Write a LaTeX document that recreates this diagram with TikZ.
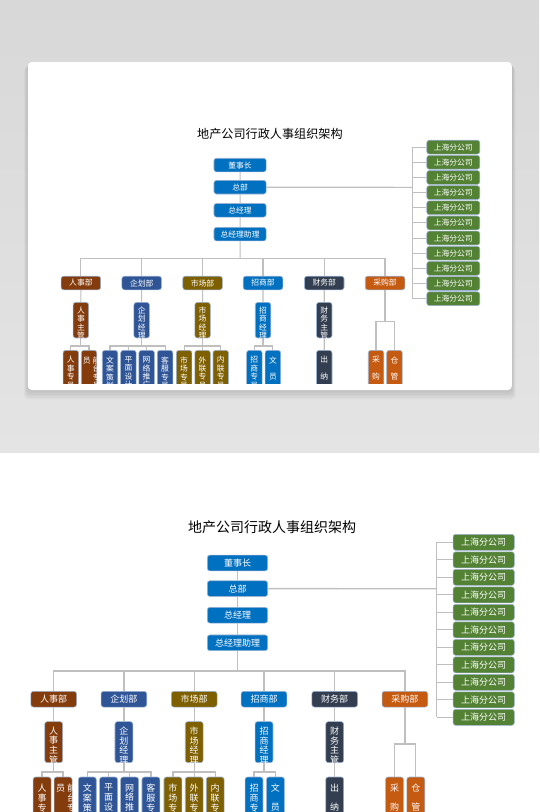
\documentclass[tikz,border=0pt]{standalone}
\usepackage{fontspec}
\setmainfont{Noto Sans CJK SC}
\usetikzlibrary{positioning,calc}

\definecolor{zblue}{HTML}{0070C0}
\definecolor{zgreen}{HTML}{548235}
\definecolor{zbrown}{HTML}{843C0C}
\definecolor{znavy}{HTML}{2F5597}
\definecolor{zolive}{HTML}{7F6000}
\definecolor{zslate}{HTML}{333F50}
\definecolor{zorange}{HTML}{C55A11}
\definecolor{edgeblue}{HTML}{9CB3D3}
\definecolor{linegray}{HTML}{BFBFBF}
\definecolor{bgtop}{HTML}{D8D8D8}
\definecolor{bgbot}{HTML}{E4E4E4}

\newcommand{\vcol}[2]{\parbox[c][#1][t]{10pt}{\centering #2}}

\tikzset{
    x=1pt, y=-1pt,
    orgbox/.style={draw=edgeblue, line width=0.6pt, rounded corners=2.5pt, text=white,
        inner sep=0pt, font=\fontsize{9}{9.8}\selectfont},
    head/.style={orgbox, fill=zblue, minimum width=60.3pt, minimum height=15.7pt},
    dept/.style={orgbox, minimum width=45.7pt, minimum height=15.7pt},
    branch/.style={orgbox, fill=zgreen, minimum width=61.2pt, minimum height=16pt},
    mgr/.style={orgbox, anchor=north, minimum width=17.9pt, inner ysep=5pt},
    staff/.style={orgbox, anchor=north, minimum width=17.9pt, inner ysep=7pt},
    wire/.style={draw=linegray, line width=1.3pt}
}

% the whole chart, #1 = prefix of the node names
\newcommand{\orgchart}[1]{%
    \node (#1title) at (272,527) {\fontsize{14}{16}\selectfont 地产公司行政人事组织架构};

    \node[head] (#1dsz) at (237.5,563) {董事长};
    \node[head] (#1zb) [below=9.3pt of #1dsz] {总部};
    \node[head] (#1zjl) [below=10.3pt of #1zb] {总经理};
    \node[head] (#1zl) [below=11.3pt of #1zjl] {总经理助理};
    \draw[wire] (#1dsz) -- (#1zb);
    \draw[wire] (#1zb) -- (#1zjl);
    \draw[wire] (#1zjl) -- (#1zl);

    % branch offices
    \coordinate (#1br) at (436.6,588.7);
    \foreach \i in {1,...,11}
        \node[branch] (#1g\i) at (483.7,524.8+17.5*\i) {上海分公司};
    \draw[wire] (#1zb.east) -- (#1br);
    \draw[wire] (#1br |- #1g1.west) -- (#1br |- #1g11.west);
    \foreach \i in {1,...,11}
        \draw[wire] (#1br |- #1g\i.west) -- (#1g\i.west);

    % departments
    \node[dept, fill=zbrown] (#1rs) at (53.7,699.2) {人事部};
    \node[dept, fill=znavy] (#1qh) at (123.9,699.2) {企划部};
    \node[dept, fill=zolive] (#1sc) at (194.2,699.2) {市场部};
    \node[dept, fill=zblue] (#1zs) at (264,699.2) {招商部};
    \node[dept, fill=zslate] (#1cw) at (334.7,699.2) {财务部};
    \node[dept, fill=zorange] (#1cg) at (404.9,699.2) {采购部};
    \coordinate (#1bus) at (237.5,671);
    \draw[wire] (#1zl) -- (#1bus);
    \foreach \d in {rs,qh,sc,zs,cw,cg}
        \draw[wire] (#1bus) -| (#1\d.north);

    % managers
    \node[mgr, fill=zbrown] (#1rsm) [below=14pt of #1rs] {\vcol{31pt}{人\\事\\主\\管}};
    \node[mgr, fill=znavy] (#1qhm) [below=14pt of #1qh] {\vcol{31pt}{企\\划\\经\\理}};
    \node[mgr, fill=zolive] (#1scm) [below=14pt of #1sc] {\vcol{31pt}{市\\场\\经\\理}};
    \node[mgr, fill=zblue] (#1zsm) [below=14pt of #1zs] {\vcol{31pt}{招\\商\\经\\理}};
    \node[mgr, fill=zslate] (#1cwm) [below=14pt of #1cw] {\vcol{31pt}{财\\务\\主\\管}};
    \foreach \d in {rs,qh,sc,zs,cw}
        \draw[wire] (#1\d) -- (#1\d m);

    % staff
    \node[staff, fill=zbrown] (#1rs1) at (42.1,776.7) {\vcol{40pt}{人\\事\\专\\员}};
    \node[staff, fill=zbrown] (#1rs2) at (63.1,776.7) {\vcol{40pt}{\hspace*{-5pt}员\rlap{\hspace{2pt}\parbox[t]{9pt}{前\\台\\专\\员}}}};
    \node[staff, fill=znavy] (#1qh1) at (87.3,776.7) {\vcol{40pt}{文\\案\\策\\划}};
    \node[staff, fill=znavy] (#1qh2) at (108.6,776.7) {\vcol{40pt}{平\\面\\设\\计}};
    \node[staff, fill=znavy] (#1qh3) at (129.6,776.7) {\vcol{40pt}{网\\络\\推\\广}};
    \node[staff, fill=znavy] (#1qh4) at (150.9,776.7) {\vcol{40pt}{客\\服\\专\\员}};
    \node[staff, fill=zolive] (#1sc1) at (172.9,776.7) {\vcol{40pt}{市\\场\\专\\员}};
    \node[staff, fill=zolive] (#1sc2) at (194.2,776.7) {\vcol{40pt}{外\\联\\专\\员}};
    \node[staff, fill=zolive] (#1sc3) at (215.2,776.7) {\vcol{40pt}{内\\联\\专\\员}};
    \node[staff, fill=zblue] (#1zs1) at (254,776.7) {\vcol{40pt}{招\\商\\专\\员}};
    \node[staff, fill=zblue] (#1zs2) at (275.4,776.7) {\vcol{40pt}{文\\[9.5pt]员}};
    \node[staff, fill=zslate] (#1cw1) at (334.7,776.7) {\vcol{40pt}{出\\[9.5pt]纳}};
    \node[staff, fill=zorange] (#1cg1) at (394.5,776.7) {\vcol{40pt}{采\\[9.5pt]购}};
    \node[staff, fill=zorange] (#1cg2) at (415.8,776.7) {\vcol{40pt}{仓\\[9.5pt]管}};

    \foreach \c in {rs1,rs2}
        \draw[wire] (#1rsm.south) -- ++(0,9) -| (#1\c.north);
    \foreach \c in {qh1,qh2,qh3,qh4}
        \draw[wire] (#1qhm.south) -- ++(0,9) -| (#1\c.north);
    \foreach \c in {sc1,sc2,sc3}
        \draw[wire] (#1scm.south) -- ++(0,9) -| (#1\c.north);
    \foreach \c in {zs1,zs2}
        \draw[wire] (#1zsm.south) -- ++(0,9) -| (#1\c.north);
    \draw[wire] (#1cwm) -- (#1cw1);
    \foreach \c in {cg1,cg2}
        \draw[wire] (#1cg.south) -- ++(0,36.5) -| (#1\c.north);
}

\begin{document}
\begin{tikzpicture}
    \useasboundingbox (0,0) rectangle (539,812);
    \shade[top color=bgtop, bottom color=bgbot] (0,0) rectangle (539,452);

    % card with its shadow
    \foreach \s in {1,...,6}
        \fill[black, opacity=0.025, rounded corners=4pt]
            (27.8-0.6*\s,62+0.8*\s) rectangle (511.9+0.6*\s,390+1.6*\s);
    \fill[white, rounded corners=4pt] (27.8,62) rectangle (511.9,390);

    \begin{scope}
        \clip (27.8,62) rectangle (511.9,383.3);
        \begin{scope}[shift={(34.4,-322.5)}, scale=0.866, transform shape,
                wire/.append style={line width=1.1pt}]
            \orgchart{u}
        \end{scope}
    \end{scope}

    \begin{scope}
        \clip (0,452) rectangle (539,812);
        \orgchart{d}
    \end{scope}
\end{tikzpicture}
\end{document}
